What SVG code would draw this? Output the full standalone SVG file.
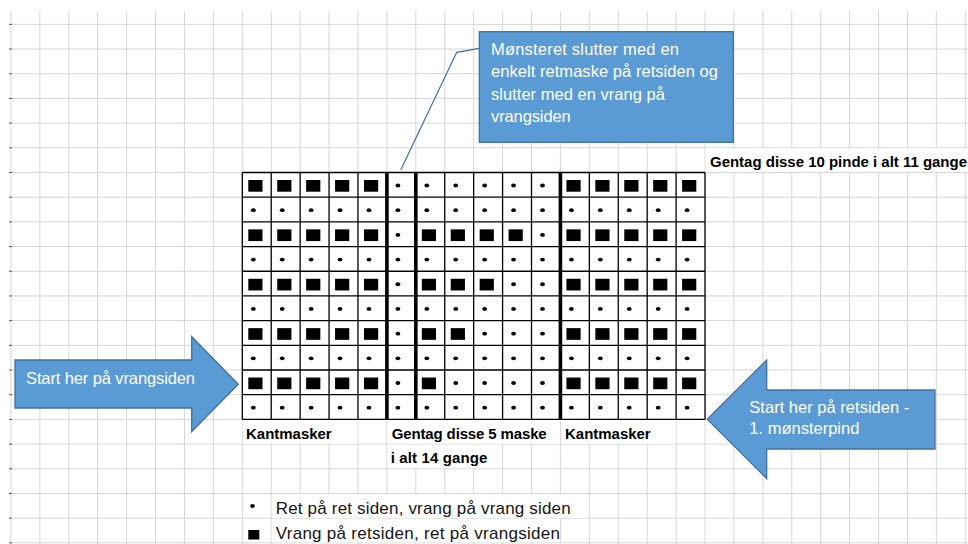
<svg xmlns="http://www.w3.org/2000/svg" xmlns:xlink="http://www.w3.org/1999/xlink" width="968" height="544" viewBox="0 0 968 544">
<style>
.bg{fill:none;stroke:#d6d6d6;stroke-width:1}
.tick{stroke:#555;stroke-width:1}
.hide{fill:#fff}
.cg{fill:none;stroke:#000;stroke-width:1.3}
.thick{fill:none;stroke:#000;stroke-width:3.6}
.sym{fill:#000}
.shape{fill:#5b9bd5;stroke:#41719c;stroke-width:1.3}
.wt{fill:#fff;font-family:"Liberation Sans",Arial,sans-serif;font-size:16.5px}
.bt{fill:#000;font-family:"Liberation Sans",Arial,sans-serif;font-size:15px;font-weight:bold}
.lt{fill:#151515;font-family:"Liberation Sans",Arial,sans-serif;font-size:17px}
.conn{fill:none;stroke:#41719c;stroke-width:1.2}
</style>
<defs>
<rect id="sq" class="sym" x="6" y="7.5" width="14.2" height="11.7"/>
<ellipse id="dt" class="sym" cx="11" cy="13" rx="2.4" ry="1.9"/>
<g id="rowK">
<use href="#dt" x="0"/><use href="#dt" x="28.92"/><use href="#dt" x="57.84"/><use href="#dt" x="86.76"/>
<use href="#dt" x="115.68"/><use href="#dt" x="144.6"/><use href="#dt" x="173.52"/><use href="#dt" x="202.44"/>
<use href="#dt" x="231.36"/><use href="#dt" x="260.28"/><use href="#dt" x="289.2"/><use href="#dt" x="318.12"/>
<use href="#dt" x="347.04"/><use href="#dt" x="375.96"/><use href="#dt" x="404.88"/><use href="#dt" x="433.8"/>
</g>
<g id="edgeP">
<use href="#sq" x="0"/><use href="#sq" x="28.92"/><use href="#sq" x="57.84"/><use href="#sq" x="86.76"/><use href="#sq" x="115.68"/>
<use href="#dt" x="144.6"/>
<use href="#sq" x="318.12"/><use href="#sq" x="347.04"/><use href="#sq" x="375.96"/><use href="#sq" x="404.88"/><use href="#sq" x="433.8"/>
</g>
</defs>
<rect width="968" height="544" fill="#fff"/>
<g id="sheet-grid">
<path class="bg" d="M10.94 11V544M39.86 11V544M68.78 11V544M97.7 11V544M126.62 11V544M155.54 11V544M184.46 11V544M213.38 11V544M242.3 11V544M271.22 11V544M300.14 11V544M329.06 11V544M357.98 11V544M386.9 11V544M415.82 11V544M444.74 11V544M473.66 11V544M502.58 11V544M531.5 11V544M560.42 11V544M589.34 11V544M618.26 11V544M647.18 11V544M676.1 11V544M705.02 11V544M733.94 11V544M762.86 11V544M791.78 11V544M820.7 11V544M849.62 11V544M878.54 11V544M907.46 11V544M936.38 11V544M965.3 11V544"/>
<path class="bg" d="M11 24.36H968M11 49.05H968M11 73.74H968M11 98.43H968M11 123.12H968M11 147.81H968M11 172.5H968M11 197.19H968M11 221.88H968M11 246.57H968M11 271.26H968M11 295.95H968M11 320.64H968M11 345.33H968M11 370.02H968M11 394.71H968M11 419.4H968M11 444.09H968M11 468.78H968M11 493.47H968M11 518.16H968M11 542.85H968"/>
<path class="tick" d="M9 24.36H12M9 49.05H12M9 73.74H12M9 98.43H12M9 123.12H12M9 147.81H12M9 172.5H12M9 197.19H12M9 221.88H12M9 246.57H12M9 271.26H12M9 295.95H12M9 320.64H12M9 345.33H12M9 370.02H12M9 394.71H12M9 419.4H12M9 444.09H12M9 468.78H12M9 493.47H12M9 518.16H12M9 542.85H12"/>
<rect class="hide" x="705.6" y="148.4" width="263" height="23.5"/>
<rect class="hide" x="242.9" y="420" width="114.5" height="23.5"/>
<rect class="hide" x="387.5" y="420" width="172.3" height="23.5"/>
<rect class="hide" x="561" y="420" width="114.5" height="23.5"/>
<rect class="hide" x="387.5" y="444.7" width="114.5" height="23.5"/>
<rect class="hide" x="271.8" y="494.1" width="316.9" height="23.5"/>
<rect class="hide" x="271.8" y="518.8" width="288" height="23.5"/>
</g>
<g id="chart" transform="translate(242.3,172.5)">
<rect x="0" y="0" width="462.72" height="246.9" fill="#fff"/>
<path class="cg" d="M0 0H462.72M0 24.69H462.72M0 49.38H462.72M0 74.07H462.72M0 98.76H462.72M0 123.45H462.72M0 148.14H462.72M0 172.83H462.72M0 197.52H462.72M0 222.21H462.72M0 246.9H462.72M0 0V246.9M28.92 0V246.9M57.84 0V246.9M86.76 0V246.9M115.68 0V246.9M202.44 0V246.9M231.36 0V246.9M260.28 0V246.9M289.2 0V246.9M347.04 0V246.9M375.96 0V246.9M404.88 0V246.9M433.8 0V246.9M462.72 0V246.9"/>
<path class="thick" d="M144.6 0V246.9M173.52 0V246.9M318.12 0V246.9"/>
<g id="row1"><use href="#edgeP"/><use href="#dt" x="173.52"/><use href="#dt" x="202.44"/><use href="#dt" x="231.36"/><use href="#dt" x="260.28"/><use href="#dt" x="289.2"/></g>
<use href="#rowK" y="24.69"/>
<g id="row3" transform="translate(0,49.38)"><use href="#edgeP"/><use href="#sq" x="173.52"/><use href="#sq" x="202.44"/><use href="#sq" x="231.36"/><use href="#sq" x="260.28"/><use href="#dt" x="289.2"/></g>
<use href="#rowK" y="74.07"/>
<g id="row5" transform="translate(0,98.76)"><use href="#edgeP"/><use href="#sq" x="173.52"/><use href="#sq" x="202.44"/><use href="#sq" x="231.36"/><use href="#dt" x="260.28"/><use href="#dt" x="289.2"/></g>
<use href="#rowK" y="123.45"/>
<g id="row7" transform="translate(0,148.14)"><use href="#edgeP"/><use href="#sq" x="173.52"/><use href="#sq" x="202.44"/><use href="#dt" x="231.36"/><use href="#dt" x="260.28"/><use href="#dt" x="289.2"/></g>
<use href="#rowK" y="172.83"/>
<g id="row9" transform="translate(0,197.52)"><use href="#edgeP"/><use href="#sq" x="173.52"/><use href="#dt" x="202.44"/><use href="#dt" x="231.36"/><use href="#dt" x="260.28"/><use href="#dt" x="289.2"/></g>
<use href="#rowK" y="222.21"/>
</g>
<g id="labels">
<text class="bt" x="710" y="166.5" textLength="257">Gentag disse 10 pinde i alt 11 gange</text>
<text class="bt" x="246" y="439" textLength="85.7">Kantmasker</text>
<text class="bt" x="391.7" y="439" textLength="155">Gentag disse 5 maske</text>
<text class="bt" x="565" y="439" textLength="85.7">Kantmasker</text>
<text class="bt" x="390.7" y="463.3" textLength="96.6">i alt 14 gange</text>
</g>
<g id="legend">
<ellipse class="sym" cx="252.5" cy="506" rx="2.3" ry="2"/>
<text class="lt" x="275.7" y="514" textLength="295">Ret på ret siden, vrang på vrang siden</text>
<rect class="sym" x="248.3" y="530" width="11" height="9.5"/>
<text class="lt" x="275.7" y="539.3" textLength="284.3">Vrang på retsiden, ret på vrangsiden</text>
</g>
<g id="connectors">
<polyline class="conn" points="479.3,48.3 456.7,52.3 400.7,170"/>
</g>
<g id="callout">
<rect class="shape" x="479.3" y="31.7" width="254" height="110.6"/>
<text class="wt" x="491" y="55" textLength="188">Mønsteret slutter med en</text>
<text class="wt" x="491" y="77.3" textLength="227">enkelt retmaske på retsiden og</text>
<text class="wt" x="491" y="99.5" textLength="174">slutter med en vrang på</text>
<text class="wt" x="491" y="121.7" textLength="79.7">vrangsiden</text>
</g>
<g id="arrow-left">
<polygon class="shape" points="15,360 191.7,360 191.7,336.7 238.3,384.2 191.7,431.7 191.7,408 15,408"/>
<text class="wt" x="26" y="384" textLength="169">Start her på vrangsiden</text>
</g>
<g id="arrow-right">
<polygon class="shape" points="935,390 766.7,390 766.7,360 707.3,419.3 766.7,478.6 766.7,449 935,449"/>
<text class="wt" x="749.3" y="413.3" textLength="160">Start her på retsiden -</text>
<text class="wt" x="749.3" y="433.5">1. mønsterpind</text>
</g>
</svg>
